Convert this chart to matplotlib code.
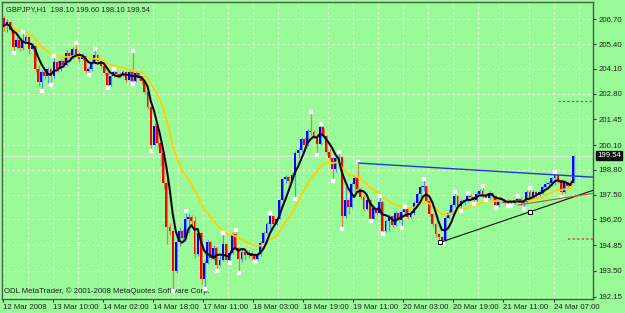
import numpy as np
import pandas as pd
import matplotlib
matplotlib.use("Agg")
import matplotlib.pyplot as plt

# ---------------------------------------------------------------------------
# data
# ---------------------------------------------------------------------------
symbol = "GBPJPY,H1"
first_open = 206.75

close = [206.35, 206.55, 206.15, 205.25, 205.60, 205.20, 205.55, 205.75, 205.15, 205.30,
         204.10, 203.40, 203.95, 203.75, 204.10, 203.70, 204.45, 204.10, 204.50, 204.30,
         204.95, 204.65, 205.15, 204.85, 204.60, 204.80, 204.00, 204.10, 204.45, 204.85,
         204.50, 204.25, 203.90, 203.25, 203.70, 203.95, 203.85, 203.70, 203.95, 203.50,
         203.95, 203.45, 203.90, 203.60, 203.45, 202.90, 202.10, 200.10, 201.10, 200.20,
         199.70, 198.10, 195.80, 195.60, 193.50, 195.00, 195.60, 195.25, 196.20, 196.35,
         196.10, 194.40, 195.50, 193.10, 193.90, 195.00, 194.20, 194.70, 193.80, 194.10,
         194.90, 194.05, 194.45, 195.45, 194.70, 194.15, 194.50, 194.35, 194.45, 194.30,
         194.15, 194.40, 194.95, 195.50, 195.95, 196.40, 195.95, 196.25, 197.20, 198.30,
         198.45, 198.20, 198.55, 199.70, 199.85, 200.40, 200.10, 200.85, 200.80, 200.55,
         200.15, 201.05, 200.60, 199.75, 199.45, 198.85, 199.40, 199.50, 196.40, 197.20,
         196.85, 198.05, 198.40, 197.80, 197.40, 196.75, 197.20, 196.25, 196.80, 196.55,
         197.10, 195.60, 196.10, 196.40, 195.90, 196.55, 196.15, 196.60, 196.75, 196.35,
         196.55, 197.05, 197.55, 197.90, 197.95, 197.15, 196.50, 195.95, 195.45, 195.30,
         195.10, 196.30, 196.55, 196.95, 197.45, 196.90, 197.15, 197.20, 197.45, 197.40,
         197.20, 197.55, 197.70, 197.45, 197.35, 197.60, 197.45, 196.95, 197.20, 197.25,
         197.05, 197.15, 197.05, 197.20, 197.30, 197.05, 197.10, 197.65, 197.35, 197.65,
         197.50, 197.65, 197.90, 198.05, 198.10, 198.35, 198.55, 198.25, 197.65, 198.15,
         197.95, 198.10, 199.54]

high = [206.85, 206.70, 206.60, 206.20, 205.75, 205.65, 206.00, 205.90, 205.80, 205.45,
        205.35, 204.30, 204.05, 204.10, 204.20, 204.15, 204.75, 204.55, 204.60, 204.75,
        205.10, 205.00, 205.25, 205.40, 205.00, 204.95, 204.85, 204.25, 204.60, 205.10,
        204.90, 204.60, 204.30, 204.00, 203.80, 204.05, 204.00, 203.95, 204.05, 204.00,
        204.10, 205.00, 204.00, 203.95, 203.70, 203.55, 203.05, 202.10, 201.25, 200.90,
        200.25, 199.80, 198.30, 196.00, 195.60, 195.20, 195.80, 195.70, 196.60, 196.50,
        196.45, 196.40, 195.60, 195.55, 194.05, 195.10, 195.05, 194.85, 194.80, 194.30,
        195.45, 194.95, 194.60, 195.55, 195.60, 194.75, 194.65, 194.60, 194.60, 194.55,
        194.40, 194.50, 195.05, 195.60, 196.05, 196.50, 196.40, 196.35, 197.30, 198.40,
        198.55, 198.50, 198.65, 199.80, 199.95, 200.50, 200.55, 200.95, 201.77, 200.90,
        200.70, 201.15, 201.00, 200.65, 199.95, 199.50, 199.60, 199.70, 199.55, 197.90,
        197.30, 198.15, 198.50, 199.15, 197.90, 197.55, 197.30, 197.25, 196.90, 196.90,
        197.40, 197.15, 196.20, 196.50, 196.45, 196.65, 196.60, 196.70, 196.80, 196.80,
        196.65, 197.15, 197.65, 198.00, 198.27, 197.95, 197.20, 196.55, 196.00, 195.50,
        195.35, 196.40, 196.75, 197.05, 197.60, 197.50, 197.25, 197.30, 197.55, 197.55,
        197.45, 197.65, 197.80, 197.90, 197.60, 197.70, 197.65, 197.50, 197.30, 197.35,
        197.30, 197.25, 197.20, 197.30, 197.40, 197.40, 197.20, 197.75, 197.80, 197.75,
        197.70, 197.75, 198.00, 198.15, 198.20, 198.45, 198.65, 198.60, 198.30, 198.25,
        198.20, 198.20, 199.60]

low = [206.10, 206.05, 206.00, 205.00, 205.20, 205.05, 205.10, 205.45, 204.90, 205.10,
       203.95, 203.20, 203.00, 203.55, 203.35, 203.30, 203.60, 203.95, 204.00, 204.20,
       204.25, 204.55, 204.60, 204.75, 204.45, 204.55, 203.90, 203.85, 204.00, 204.40,
       204.35, 204.15, 203.80, 203.15, 203.20, 203.65, 203.75, 203.60, 203.65, 203.40,
       203.45, 203.35, 203.40, 203.50, 203.30, 202.80, 202.00, 199.85, 200.10, 200.00,
       199.00, 197.80, 194.90, 195.40, 192.50, 193.40, 194.80, 195.10, 195.20, 195.50,
       195.90, 194.20, 194.30, 192.80, 192.60, 193.85, 194.05, 194.10, 193.55, 193.75,
       194.00, 193.95, 193.95, 194.40, 194.60, 193.45, 193.95, 194.10, 194.20, 194.05,
       194.00, 194.05, 194.30, 194.90, 195.45, 195.50, 195.85, 195.90, 196.20, 197.10,
       198.10, 198.10, 198.15, 197.30, 199.40, 199.75, 200.00, 200.05, 200.65, 200.45,
       199.65, 200.10, 200.50, 199.60, 199.30, 198.25, 198.70, 199.30, 195.75, 196.30,
       196.50, 196.80, 197.70, 197.60, 197.30, 196.65, 196.70, 196.15, 196.20, 196.45,
       196.50, 195.50, 195.55, 195.60, 195.80, 195.85, 196.05, 195.80, 196.40, 196.25,
       196.30, 196.45, 196.95, 197.30, 197.70, 197.05, 196.40, 195.80, 195.30, 195.00,
       194.98, 195.05, 196.20, 196.50, 196.85, 196.80, 196.70, 196.95, 197.10, 197.30,
       197.05, 197.15, 197.45, 197.35, 197.25, 197.30, 197.30, 196.85, 196.90, 197.05,
       196.95, 196.95, 196.95, 197.00, 197.10, 196.95, 196.80, 197.05, 197.25, 197.30,
       197.40, 197.45, 197.55, 197.75, 197.90, 197.95, 198.00, 198.10, 197.45, 197.60,
       197.85, 197.90, 198.10]

time_labels = ["12 Mar 2008", "13 Mar 10:00", "14 Mar 02:00", "14 Mar 18:00",
               "17 Mar 11:00", "18 Mar 03:00", "18 Mar 19:00", "19 Mar 11:00",
               "20 Mar 03:00", "20 Mar 19:00", "21 Mar 11:00", "24 Mar 07:00"]
price_ticks = [192.15, 193.50, 194.85, 196.20, 197.50, 198.80,
               200.10, 201.45, 202.80, 204.10, 205.40, 206.70]

# hand drawn objects (bar index, price)
blue_trend = ([113.3, 188.3], [199.16, 198.42])
black_trend = ([139.5, 188.3], [195.00, 197.73])
black_anchors = ([139.5, 168.1], [195.00, 196.61])
red_trend = ([164.4, 188.3], [196.96, 197.57])
green_level = ([177.2, 188.3], [202.43, 202.43])
red_level = ([180.4, 188.3], [195.18, 195.18])

# ---------------------------------------------------------------------------
close = np.array(close)
high = np.array(high)
low = np.array(low)
opn = np.r_[first_open, close[:-1]]
n = len(close)
x = np.arange(n)

ma_fast = pd.Series(close).rolling(5, min_periods=1).mean()
ma_slow = pd.Series(close).ewm(span=19, adjust=False).mean()

BG = "#98fb98"
FONT = "Liberation Sans"

fig = plt.figure(figsize=(6.25, 3.13), dpi=100, facecolor=BG)
ax = fig.add_axes([0.0032, 0.0457, 0.9456, 0.9479], facecolor=BG)
ax.set_xlim(-0.5, 188.3)
ax.set_ylim(192.045, 207.607)

# grid
for p in price_ticks:
    ax.axhline(p, color="#e2f2d2", lw=0.9, ls=(0, (2, 2)), zorder=0)
for k in range(0, 190, 8):
    ax.axvline(k - 0.3, color="#e2f2d2", lw=0.9, ls=(0, (2, 2)), zorder=0)

# bid line
ax.axhline(close[-1], color="#dcebd4", lw=1.0, zorder=1)

# candles
up = close >= opn
wick_col = np.where(up, "#5a94d8", "#d08a40")
body_col = np.where(up, "#0000ff", "#ff0000")
ax.vlines(x + 0.25, low, high, colors=wick_col, lw=0.9, zorder=2)
body_lo = np.minimum(opn, close)
body_h = np.maximum(np.abs(close - opn), 0.03)
ax.bar(x, body_h, bottom=body_lo, width=0.6, color=body_col, lw=0, zorder=3)

# moving averages
ax.plot(x, ma_slow, color="#ffd000", lw=1.3, zorder=4)
ax.plot(x, ma_fast, color="#0b0b1e", lw=1.5, zorder=5)

# fractals
for i in range(2, n - 2):
    if high[i] == high[i - 2:i + 3].max():
        ax.plot(i + 0.25, high[i] + 0.05, "s", ms=2.2, mfc="white", mec="#f0f0f0", mew=0.3, zorder=6)
    if low[i] == low[i - 2:i + 3].min():
        ax.plot(i + 0.25, low[i] - 0.05, "s", ms=2.2, mfc="white", mec="#f0f0f0", mew=0.3, zorder=6)

# objects
ax.plot(*blue_trend, color="#2238d0", lw=1.0, zorder=6)
ax.plot(*black_trend, color="#111111", lw=0.8, zorder=6)
ax.plot(*red_trend, color="#c85030", lw=0.8, zorder=6)
ax.plot(*black_anchors, "s", ms=3, mfc="white", mec="black", mew=0.7, zorder=7)
ax.plot(*green_level, color="#2e8b57", lw=0.8, ls=(0, (2, 2)), zorder=6)
ax.plot(*red_level, color="#e04a28", lw=1.1, ls=(0, (1.5, 1.5)), zorder=6)

# axes look
for s in ax.spines.values():
    s.set_color("#4a5a4a")
    s.set_linewidth(1.0)
ax.yaxis.tick_right()
ax.set_yticks(price_ticks)
ax.set_yticklabels([f"{p:.2f}" for p in price_ticks], fontsize=5.6, family=FONT, color="#202020")
ax.set_xticks([16 * k - 0.3 for k in range(len(time_labels))])
ax.set_xticklabels(time_labels, fontsize=5.6, family=FONT, color="#202020", ha="left")
ax.tick_params(axis="both", length=2.5, width=0.8, color="#303030", pad=1.5)

# header and footer
ax.text(0.006, 0.985, f"{symbol}  {opn[-1]:.2f} {high[-1]:.2f} {low[-1]:.2f} {close[-1]:.2f}",
        transform=ax.transAxes, fontsize=5.4, family=FONT, color="#202020", va="top", ha="left")
ax.text(0.004, 0.012, "ODL MetaTrader, \u00a9 2001-2008 MetaQuotes Software Corp.",
        transform=ax.transAxes, fontsize=5.6, family=FONT, color="#202020", va="bottom", ha="left")

# current price box
ax.annotate(f"{close[-1]:.2f}", xy=(1.0, close[-1]), xycoords=("axes fraction", "data"),
            xytext=(3, 0), textcoords="offset points", fontsize=5.6, family=FONT,
            color="white", va="center", ha="left",
            bbox=dict(boxstyle="square,pad=0.15", fc="#101010", ec="#101010"))

fig.savefig("out.png", dpi=100, facecolor=BG)
